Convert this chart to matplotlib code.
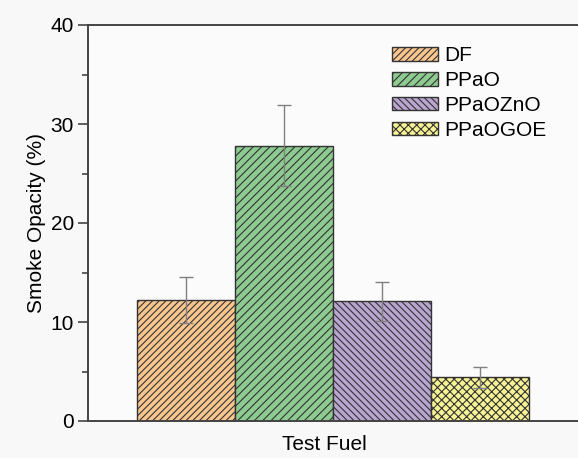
import matplotlib
matplotlib.use("Agg")
import matplotlib.pyplot as plt
from matplotlib.ticker import MultipleLocator

plt.rcParams['font.family'] = ['Liberation Sans', 'DejaVu Sans']
plt.rcParams['hatch.linewidth'] = 0.8
plt.rcParams['hatch.color'] = '#3a3a3a'

fuels = ["DF", "PPaO", "PPaOZnO", "PPaOGOE"]
opacity = [12.2, 27.8, 12.1, 4.4]
errors = [2.3, 4.1, 1.95, 1.1]
colors = ["#F9C68F", "#8DCB90", "#B9A5D0", "#F7F294"]
hatches = ["/////", "////", "\\\\\\\\\\", "xxxx"]

fig = plt.figure(figsize=(5.78, 4.58), dpi=100, facecolor="#f8f8f8")
ax = fig.add_axes([88 / 578, 37 / 458, 1 - 88 / 578, 396 / 458])
ax.set_facecolor("#fbfbfb")

positions = list(range(len(fuels)))
for x, v, e, c, h, name in zip(positions, opacity, errors, colors, hatches, fuels):
    ax.bar(x, v, width=1.0, color=c, edgecolor="#333333", linewidth=1.0,
           hatch=h, label=name, zorder=2)
    ax.errorbar(x, v, yerr=e, fmt="none", ecolor="#808080", elinewidth=1.0,
                capsize=5, capthick=1.0, zorder=3)

ax.set_xlim(-1.0, 4.0)
ax.set_ylim(0, 40)
ax.yaxis.set_major_locator(MultipleLocator(10))
ax.yaxis.set_minor_locator(MultipleLocator(5))
ax.set_xticks([])
ax.tick_params(axis="y", which="major", direction="out", length=7, width=1.2,
               labelsize=15, color="#444444", pad=3)
ax.tick_params(axis="y", which="minor", direction="out", length=4, width=1.2,
               color="#444444")

for side in ("left", "bottom", "top"):
    ax.spines[side].set_color("#444444")
    ax.spines[side].set_linewidth(1.4)
ax.spines["right"].set_visible(False)

ax.set_ylabel("Smoke Opacity (%)", fontsize=15)
ax.yaxis.set_label_coords(-(88 - 46) / 490, 0.5, transform=ax.transAxes)
ax.set_xlabel("Test Fuel", fontsize=15)
ax.xaxis.set_label_coords((324 - 88) / 490, -0.035, transform=ax.transAxes)

leg = ax.legend(loc="upper left", bbox_to_anchor=(0.604, 0.967), frameon=False,
                fontsize=15, handlelength=2.2, handleheight=0.62,
                handletextpad=0.3, labelspacing=0.28, borderaxespad=0)

fig.savefig("out.png", dpi=100, facecolor=fig.get_facecolor())
